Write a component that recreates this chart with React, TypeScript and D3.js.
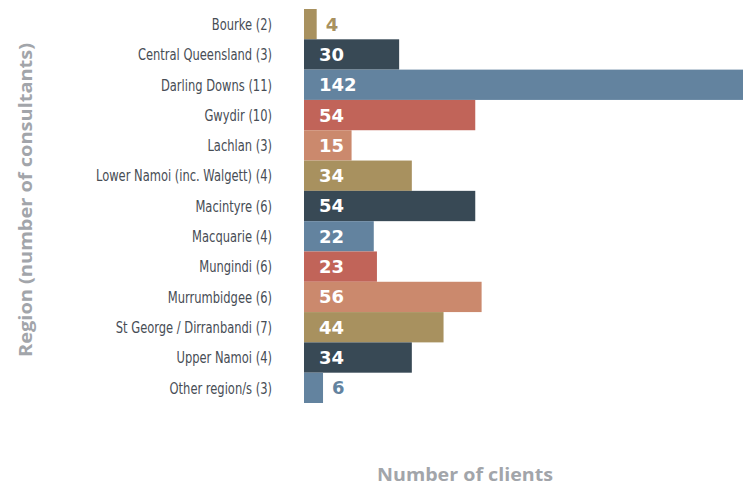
import React from 'react';
import * as d3 from 'd3';

const regions = [
  'Bourke (2)',
  'Central Queensland (3)',
  'Darling Downs (11)',
  'Gwydir (10)',
  'Lachlan (3)',
  'Lower Namoi (inc. Walgett) (4)',
  'Macintyre (6)',
  'Macquarie (4)',
  'Mungindi (6)',
  'Murrumbidgee (6)',
  'St George / Dirranbandi (7)',
  'Upper Namoi (4)',
  'Other region/s (3)',
];
const clients = [4, 30, 142, 54, 15, 34, 54, 22, 23, 56, 44, 34, 6];
const palette = ['#a8915f', '#384955', '#63839f', '#c16459', '#cb896d'];

const W = 743;
const H = 486;
const left = 304;

export default function App() {
  const y = d3.scaleBand<string>().domain(regions).range([9, 403]).padding(0);
  const x = d3.scaleLinear().domain([0, 140]).range([0, 444]);

  return (
    <svg width={W} height={H} style={{ position: 'absolute', left: 0, top: 0 }}>
      <defs>
        <clipPath id="plot">
          <rect x={0} y={0} width={W} height={H} />
        </clipPath>
      </defs>
      <g clipPath="url(#plot)">
        {regions.map((r, i) => {
          const v = clients[i];
          const w = x(v);
          const yy = y(r)!;
          const bh = y.bandwidth();
          const color = palette[i % palette.length];
          const inside = w > 30;
          return (
            <g key={r}>
              <rect x={left} y={yy} width={w} height={bh} fill={color} />
              <text
                transform={`translate(${left - 32},${yy + bh / 2}) scale(0.8,1)`}
                dy="0.36em"
                textAnchor="end"
                fontFamily="'DejaVu Sans Condensed', sans-serif"
                fontSize={16}
                fill="#474d55"
              >
                {r}
              </text>
              <text
                x={inside ? left + 15 : left + w + 9}
                y={yy + bh / 2}
                dy="0.36em"
                fontFamily="'DejaVu Sans', sans-serif"
                fontWeight="bold"
                fontSize={18}
                fill={inside ? '#ffffff' : color}
              >
                {v}
              </text>
            </g>
          );
        })}
      </g>
      <text
        x={377}
        y={481}
        textLength={176}
        lengthAdjust="spacingAndGlyphs"
        fontFamily="'Open Sans', sans-serif"
        fontWeight="bold"
        fontSize={18}
        fill="#a2a5aa"
      >
        Number of clients
      </text>
      <text
        transform={`translate(32, 357) rotate(-90)`}
        textLength={314}
        lengthAdjust="spacingAndGlyphs"
        fontFamily="'Open Sans', sans-serif"
        fontWeight="bold"
        fontSize={18}
        fill="#a2a5aa"
      >
        Region (number of consultants)
      </text>
    </svg>
  );
}
